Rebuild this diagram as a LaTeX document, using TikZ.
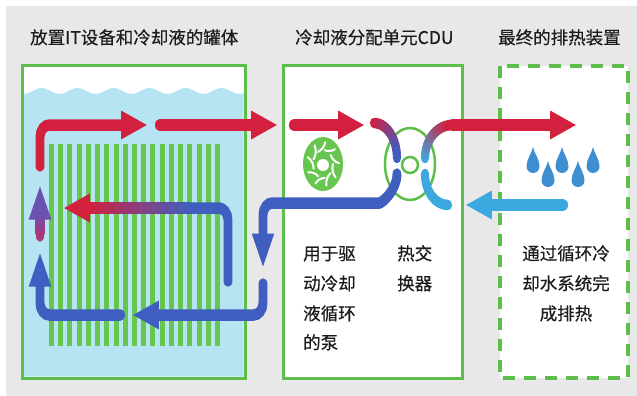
\documentclass[tikz,border=0pt]{standalone}
\usepackage{fontspec}
\setmainfont[FakeBold=0.4]{Noto Sans CJK SC}
\usetikzlibrary{arrows.meta}

\definecolor{bggray}{HTML}{E8E8E8}
\definecolor{boxgreen}{HTML}{5DBE4B}
\definecolor{bargreen}{HTML}{67C64F}
\definecolor{liquid}{HTML}{B6E4F2}
\definecolor{hotred}{HTML}{D2203E}
\definecolor{coldblue}{HTML}{3F5EC0}
\definecolor{waterblue}{HTML}{3BA8E0}
\definecolor{dropblue}{HTML}{3E8ED2}
\definecolor{txt}{HTML}{1C1C1C}
\definecolor{headpurple}{HTML}{6A52B2}
\definecolor{stempurple}{HTML}{A8387A}

\tikzset{
  lbl/.style={font=\fontsize{17.5}{20}\selectfont, text=txt, inner sep=0pt},
  frame/.style={draw=boxgreen, line width=3pt},
  flowhead/.style={-{Triangle[length=34.5pt,width=26pt]}},
  flow/.style={line width=11.5pt, line cap=round, flowhead},
  hot/.style={flow, hotred},
  cold/.style={flow, coldblue},
  coolw/.style={flow, waterblue},
  tube/.style={line width=10.5pt, line cap=round},
}

\begin{document}
\begin{tikzpicture}[x=1pt, y=-1pt]
\useasboundingbox (0,0) rectangle (637,396);
\fill[white] (0,0) rectangle (637,396);
\fill[bggray] (6,6) rectangle (637,396);

% ---- titles
\node[lbl, anchor=base west] (t1) at (30,44) {放置IT设备和冷却液的罐体};
\node[lbl, anchor=base west] (t2) at (295,44) {冷却液分配单元CDU};
\node[lbl, anchor=base west] (t3) at (498,44) {最终的排热装置};

% ---- immersion tank
\fill[white] (22,66) rectangle (245,378);
\fill[liquid] (23.5,91)
  -- plot[domain=23.5:243.5, samples=90] (\x, {91+3*cos(10*(\x-23.5))})
  -- (243.5,376.5) -- (23.5,376.5) -- cycle;
\foreach \i in {0,...,18}
  \fill[bargreen] ({49+\i*9.22},144) rectangle ++(5,202);
\draw[frame] (22,66) rectangle (245,378);

% ---- CDU box
\draw[frame, fill=white] (283,66) rectangle (462,378);

% ---- heat rejection box
\draw[draw=boxgreen, line width=3.5pt, dash pattern=on 12pt off 9pt, fill=white]
  (500,66) rectangle (628,378);

% ---- heat exchanger outline
\draw[boxgreen, line width=2.5pt] (410,164) ellipse [x radius=25, y radius=36];
\draw[boxgreen, line width=2.5pt] (410,165) circle [radius=8];

% ---- pump impeller
\fill[bargreen] (323,164) ellipse [x radius=20, y radius=27];
\fill[white] (323,165) circle [radius=6];
\foreach \a in {0,40,...,320}
  \draw[white, line width=2pt, line cap=round]
    ({323+10*cos(\a)},{164+14*sin(\a)}) to[bend right=25]
    ({323+16*cos(\a+38)},{164+22*sin(\a+38)});

% ---- water drops
\foreach \x/\y in {533/147,548/161,562/147,578/161,593/147}
  \fill[dropblue] (\x,\y) .. controls (\x+1,\y+6) and (\x+6.5,\y+12) .. (\x+6.5,\y+19.5)
    arc[start angle=0, end angle=180, radius=6.5]
    .. controls (\x-6.5,\y+12) and (\x-1,\y+6) .. cycle;

% ---- coolant flows (horizontally compressed drawing)
\begin{scope}[x=1.28205pt, transform canvas={xscale=0.78}]
  % hot coolant leaving the tank
  \draw[hot, rounded corners=12pt] (40,166) -- (40,125) -- (148,125);
  \draw[hot] (159.5,125) -- (278,125);
  \draw[hot] (293.5,125) -- (365,125);

  % hot side of exchanger: red to blue
  \foreach \k in {0,...,11}{
    \pgfmathsetmacro\aa{-90+7.5*\k}
    \pgfmathsetmacro\ab{\aa+7.5}
    \pgfmathtruncatemacro\p{100-100*\k/11}
    \draw[tube, hotred!\p!coldblue]
      ({374+23*cos(\aa)},{158+35*sin(\aa)}) -- ({374+23*cos(\ab)},{158+35*sin(\ab)});
  }
  % cooled coolant back to the pump and tank
  \draw[cold, rounded corners=12pt]
    (397,174) .. controls (397,190) and (382,203) .. (370,203) -- (263,203) -- (263,268);
  \draw[cold, rounded corners=12pt] (263,284) -- (263,315) -- (132,315);
  \draw[cold, rounded corners=12pt] (120.5,315) -- (40,315) -- (40,252);

  % coolant warming while passing the servers
  \draw[cold, rounded corners=12pt, -{Triangle[length=34.5pt,width=26pt,color=hotred]}]
    (228,281) -- (228,208) -- (63,208);
  \shade[left color=hotred, right color=coldblue] (88,202.25) rectangle (190,213.75);

  % rising coolant
  \draw[flow, stempurple, -{Triangle[length=34.5pt,width=26pt,color=headpurple]}]
    (40,236) -- (40,185);
  \shade[top color=headpurple, bottom color=stempurple] (35.515,214) rectangle (44.485,234);

  % water side of exchanger: blue to red
  \foreach \k in {0,...,11}{
    \pgfmathsetmacro\aa{180+7.5*\k}
    \pgfmathsetmacro\ab{\aa+7.5}
    \pgfmathtruncatemacro\p{100*\k/11}
    \draw[tube, hotred!\p!waterblue]
      ({452+27*cos(\aa)},{158+33*sin(\aa)}) -- ({452+27*cos(\ab)},{158+33*sin(\ab)});
  }
  \draw[hot] (452,125) -- (577,125);
  \draw[tube, waterblue] (425,174) .. controls (425,191) and (435,205) .. (448,205);
  \draw[coolw] (563.5,205) -- (465,205);
\end{scope}

% ---- captions
\node[lbl, anchor=base west] (p1) at (303,260) {用于驱};
\node[lbl, anchor=base west] (p2) at (303,290) {动冷却};
\node[lbl, anchor=base west] (p3) at (303,320) {液循环};
\node[lbl, anchor=base west] (p4) at (303,349) {的泵};

\node[lbl, anchor=base west] (h1) at (397,260) {热交};
\node[lbl, anchor=base west] (h2) at (397,290) {换器};

\node[lbl, anchor=base] (r1) at (566,260) {通过循环冷};
\node[lbl, anchor=base] (r2) at (566,290) {却水系统完};
\node[lbl, anchor=base] (r3) at (566,320) {成排热};
\end{tikzpicture}
\end{document}
